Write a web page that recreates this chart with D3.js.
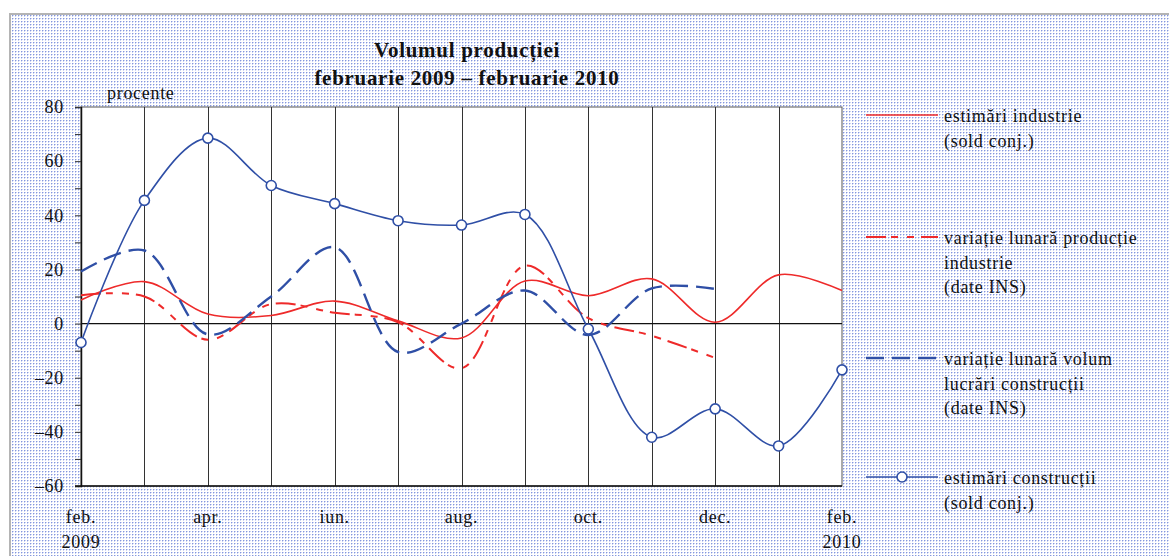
<!DOCTYPE html>
<html>
<head>
<meta charset="utf-8">
<title>Volumul producției</title>
<style>
  html, body { margin: 0; padding: 0; background: #fff; }
  svg { display: block; font-family: "Liberation Serif", "Times New Roman", serif; }
  svg text { font-family: "Liberation Serif", "Times New Roman", serif; letter-spacing: 0.7px; }
</style>
</head>
<body>
<svg id="svg" width="1169" height="556"></svg>
<script src="https://cdn.jsdelivr.net/npm/d3@7"></script>
<script>
// months feb 2009 .. feb 2010
const months = ["feb09", "mar09", "apr09", "mai09", "iun09", "iul09", "aug09",
  "sep09", "oct09", "nov09", "dec09", "ian10", "feb10"]
const monthLabels = ["feb.", "", "apr.", "", "iun.", "", "aug.", "", "oct.", "", "dec.", "", "feb."]
const yearLabels = ["2009", "", "", "", "", "", "", "", "", "", "", "", "2010"]
const yTicks = [80, 60, 40, 20, 0, -20, -40, -60]

// series
const industrieEst = [8.7, 15.5, 3.5, 3, 8.3, 1, -5.3, 15.7, 10.3, 16.5, 0.5, 18, 12.2]
const industrieIns = [10.5, 10, -6, 7.2, 4, 0.5, -16.5, 21.4, 2, -4.5, -12.7]
const constructiiIns = [19.2, 27, -4, 10, 28.2, -10.5, 0, 12.2, -4.2, 13, 12.8]
const constructiiEst = [-7, 45.5, 68.5, 51, 44.3, 38, 36.4, 40.3, -2, -42, -31.5, -45.2, -17.1]

const legendItems = [
  { lines: ["estimări industrie", "(sold conj.)"], color: "#ee2a2a", dash: null, width: 1.6, marker: false },
  { lines: ["variație lunară producție", "industrie", "(date INS)"], color: "#ee2a2a", dash: "20,5,7,9,7,7", width: 2, marker: false },
  { lines: ["variație lunară volum", "lucrări construcții", "(date INS)"], color: "#2f4fa6", dash: "18,8", width: 2.4, marker: false },
  { lines: ["estimări construcții", "(sold conj.)"], color: "#2f4fa6", dash: null, width: 1.6, marker: true }
]

const svg = d3.select("#svg")
const margin = { top: 107, right: 327, bottom: 70, left: 81 }
const W = 1169, H = 556

// dotted background pattern
const defs = svg.append("defs")
const pat = defs.append("pattern")
  .attr("id", "dots").attr("width", 3).attr("height", 3)
  .attr("patternUnits", "userSpaceOnUse")
pat.append("rect").attr("width", 3).attr("height", 3).attr("fill", "#ffffff")
pat.append("rect").attr("x", 0).attr("y", 0).attr("width", 1).attr("height", 1).attr("fill", "#8497dc")
pat.append("rect").attr("x", 1).attr("y", 0).attr("width", 1).attr("height", 1).attr("fill", "#ccd4f4")
pat.append("rect").attr("x", 0).attr("y", 1).attr("width", 1).attr("height", 1).attr("fill", "#ccd4f4")

svg.append("rect")
  .attr("x", 10).attr("y", 14)
  .attr("width", W).attr("height", H)
  .attr("fill", "url(#dots)")
  .attr("stroke", "#b4b4b4")
  .attr("stroke-width", 2)

const x = d3.scalePoint().domain(months).range([margin.left, W - margin.right])
const y = d3.scaleLinear().domain([-60, 80]).range([H - margin.bottom, margin.top])

// plot area
svg.append("rect")
  .attr("x", x(months[0])).attr("y", y(80))
  .attr("width", x(months[12]) - x(months[0]))
  .attr("height", y(-60) - y(80))
  .attr("fill", "#fff")
  .attr("stroke", "#555")
  .attr("stroke-width", 1)

// vertical gridlines
svg.append("g")
  .selectAll("line")
  .data(months.slice(1, -1))
  .enter().append("line")
  .attr("x1", d => Math.round(x(d)) + 0.5).attr("x2", d => Math.round(x(d)) + 0.5)
  .attr("y1", y(80)).attr("y2", y(-60))
  .attr("stroke", "#333")
  .attr("stroke-width", 1)

// zero line
svg.append("line")
  .attr("x1", x(months[0])).attr("x2", x(months[12]))
  .attr("y1", y(0)).attr("y2", y(0))
  .attr("stroke", "#111").attr("stroke-width", 1.3)

// y axis
const yAxis = svg.append("g")
  .attr("transform", `translate(${x(months[0])},0)`)
  .call(d3.axisLeft(y).tickValues(d3.range(-60, 81, 10)).tickSize(6)
    .tickFormat(d => yTicks.includes(d) ? (d < 0 ? "–" + Math.abs(d) : d) : ""))
yAxis.attr("font-family", null).attr("font-size", null)
yAxis.select(".domain").attr("stroke", "#111").attr("stroke-width", 1.5)
yAxis.selectAll(".tick line").attr("stroke", "#333")
yAxis.selectAll(".tick text")
  .attr("x", -17)
  .style("font-size", "18px")
  .attr("fill", "#111")

// bottom axis line
svg.append("line")
  .attr("x1", x(months[0]) - 6).attr("x2", x(months[12]))
  .attr("y1", y(-60)).attr("y2", y(-60))
  .attr("stroke", "#111").attr("stroke-width", 1.5)

// x labels
svg.append("g").selectAll("text")
  .data(months)
  .enter().append("text")
  .attr("x", d => x(d))
  .attr("y", 523)
  .attr("text-anchor", "middle")
  .style("font-size", "18px")
  .attr("fill", "#111")
  .text((d, i) => monthLabels[i])

svg.append("g").selectAll("text")
  .data(months)
  .enter().append("text")
  .attr("x", d => x(d))
  .attr("y", 548)
  .attr("text-anchor", "middle")
  .style("font-size", "18px")
  .attr("fill", "#111")
  .text((d, i) => yearLabels[i])

// title
const title = svg.append("text")
  .attr("x", 467).attr("text-anchor", "middle")
  .style("font-size", "21px").style("font-weight", "bold")
  .attr("fill", "#111")
title.append("tspan").attr("x", 467).attr("y", 57).text("Volumul producției")
title.append("tspan").attr("x", 467).attr("y", 85).text("februarie 2009 – februarie 2010")

svg.append("text")
  .attr("x", 107).attr("y", 99)
  .style("font-size", "18px")
  .attr("fill", "#111")
  .text("procente")

// series lines
const line = d3.line()
  .x((d, i) => x(months[i]))
  .y(d => y(d))
  .curve(d3.curveCatmullRom.alpha(0.5))

const series = [
  { values: industrieEst, item: legendItems[0] },
  { values: industrieIns, item: legendItems[1] },
  { values: constructiiIns, item: legendItems[2] },
  { values: constructiiEst, item: legendItems[3] }
]

svg.append("g").selectAll("path")
  .data(series)
  .enter().append("path")
  .attr("d", d => line(d.values))
  .attr("fill", "none")
  .attr("stroke", d => d.item.color)
  .attr("stroke-width", d => d.item.width)
  .attr("stroke-dasharray", d => d.item.dash)

svg.append("g").selectAll("circle")
  .data(constructiiEst)
  .enter().append("circle")
  .attr("cx", (d, i) => x(months[i]))
  .attr("cy", d => y(d))
  .attr("r", 5)
  .attr("fill", "#fff")
  .attr("stroke", "#2f4fa6")
  .attr("stroke-width", 1.6)

// legend
const legendY = [115, 237, 358, 477]
const legend = svg.append("g")
legendItems.forEach((item, i) => {
  const g = legend.append("g").attr("transform", `translate(0,${legendY[i]})`)
  g.append("line")
    .attr("x1", 866).attr("x2", 938)
    .attr("y1", 0).attr("y2", 0)
    .attr("stroke", item.color)
    .attr("stroke-width", item.width)
    .attr("stroke-dasharray", item.dash)
  if (item.marker) {
    g.append("circle").attr("cx", 902).attr("cy", 0).attr("r", 5)
      .attr("fill", "#fff").attr("stroke", item.color).attr("stroke-width", 1.6)
  }
  item.lines.forEach((t, j) => {
    g.append("text")
      .attr("x", 944).attr("y", 7 + j * 24.5)
      .style("font-size", "18px")
      .attr("fill", "#111")
      .text(t)
  })
})
</script>
</body>
</html>
